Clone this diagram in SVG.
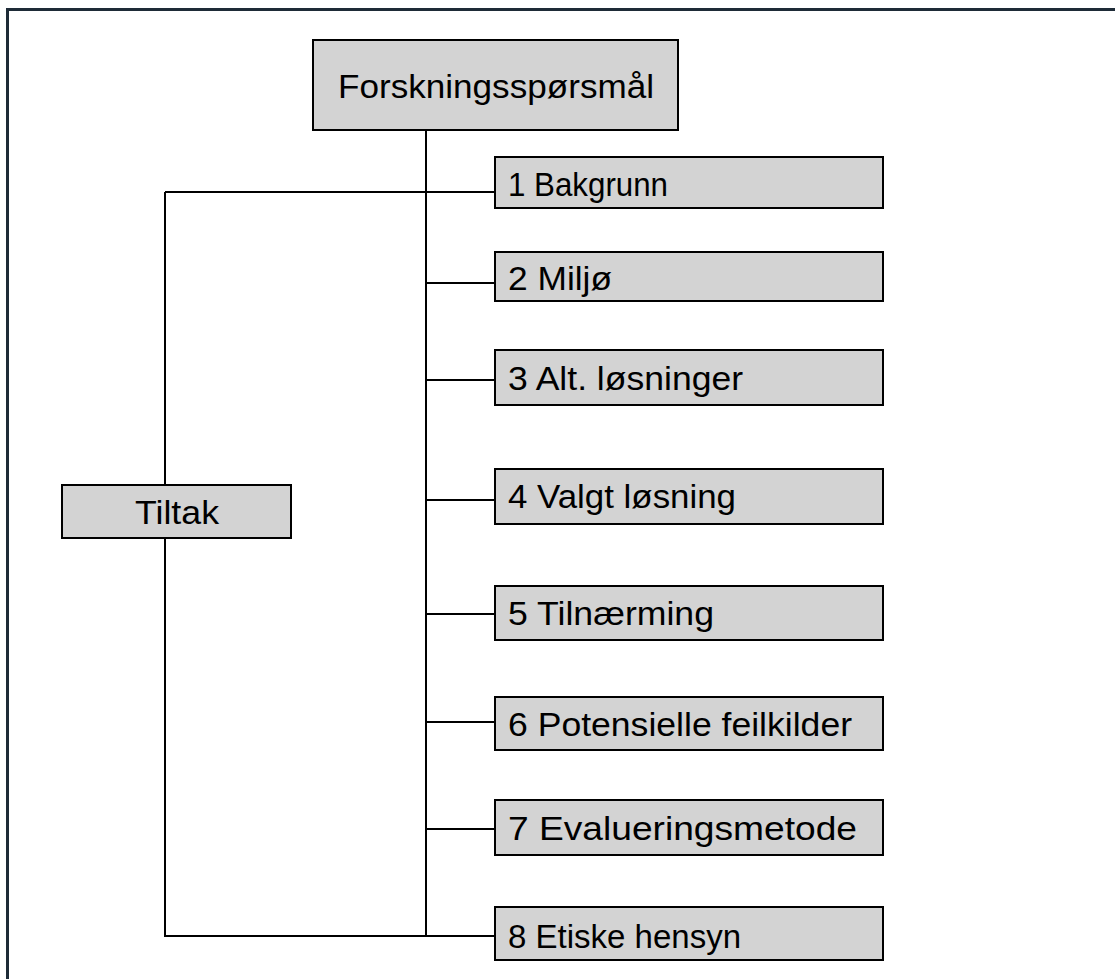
<svg xmlns="http://www.w3.org/2000/svg" width="1115" height="979" viewBox="0 0 1115 979">
<style>
.box{fill:#d3d3d3;stroke:#000;stroke-width:2}
.lbl{font-family:"Liberation Sans",Arial,sans-serif;font-size:34px;fill:#000}
.c{fill:none;stroke:#000;stroke-width:2}
</style>
<rect x="0" y="0" width="1115" height="979" fill="#fff"/>
<path d="M7.5,979 V9.5 H1115" fill="none" stroke="#1e2b37" stroke-width="3"/>
<g id="connectors">
<path class="c" d="M426,131 V936"/>
<path class="c" d="M165,192 H495 M165,192 V936 H495"/>
<path class="c" d="M426,283 H495 M426,380 H495 M426,500 H495 M426,614 H495 M426,722 H495 M426,829 H495"/>
</g>
<g id="n0"><rect class="box" x="313" y="40" width="365" height="90"/><text class="lbl" x="338" y="98" textLength="316" lengthAdjust="spacingAndGlyphs">Forskningsspørsmål</text></g>
<g id="tiltak"><rect class="box" x="62" y="485" width="229" height="53"/><text class="lbl" x="135" y="524" textLength="84" lengthAdjust="spacingAndGlyphs">Tiltak</text></g>
<g id="n1"><rect class="box" x="495" y="157" width="388" height="51"/><text class="lbl" x="508" y="196" textLength="160" lengthAdjust="spacingAndGlyphs">1 Bakgrunn</text></g>
<g id="n2"><rect class="box" x="495" y="252" width="388" height="49"/><text class="lbl" x="508" y="290" textLength="104" lengthAdjust="spacingAndGlyphs">2 Miljø</text></g>
<g id="n3"><rect class="box" x="495" y="350" width="388" height="55"/><text class="lbl" x="508" y="390" textLength="235" lengthAdjust="spacingAndGlyphs">3 Alt. løsninger</text></g>
<g id="n4"><rect class="box" x="495" y="469" width="388" height="55"/><text class="lbl" x="508" y="508" textLength="228" lengthAdjust="spacingAndGlyphs">4 Valgt løsning</text></g>
<g id="n5"><rect class="box" x="495" y="586" width="388" height="54"/><text class="lbl" x="508" y="625" textLength="206" lengthAdjust="spacingAndGlyphs">5 Tilnærming</text></g>
<g id="n6"><rect class="box" x="495" y="697" width="388" height="53"/><text class="lbl" x="508" y="736" textLength="344" lengthAdjust="spacingAndGlyphs">6 Potensielle feilkilder</text></g>
<g id="n7"><rect class="box" x="495" y="800" width="388" height="55"/><text class="lbl" x="508" y="840" textLength="349" lengthAdjust="spacingAndGlyphs">7 Evalueringsmetode</text></g>
<g id="n8"><rect class="box" x="495" y="907" width="388" height="53"/><text class="lbl" x="508" y="948" textLength="233" lengthAdjust="spacingAndGlyphs">8 Etiske hensyn</text></g>
</svg>
